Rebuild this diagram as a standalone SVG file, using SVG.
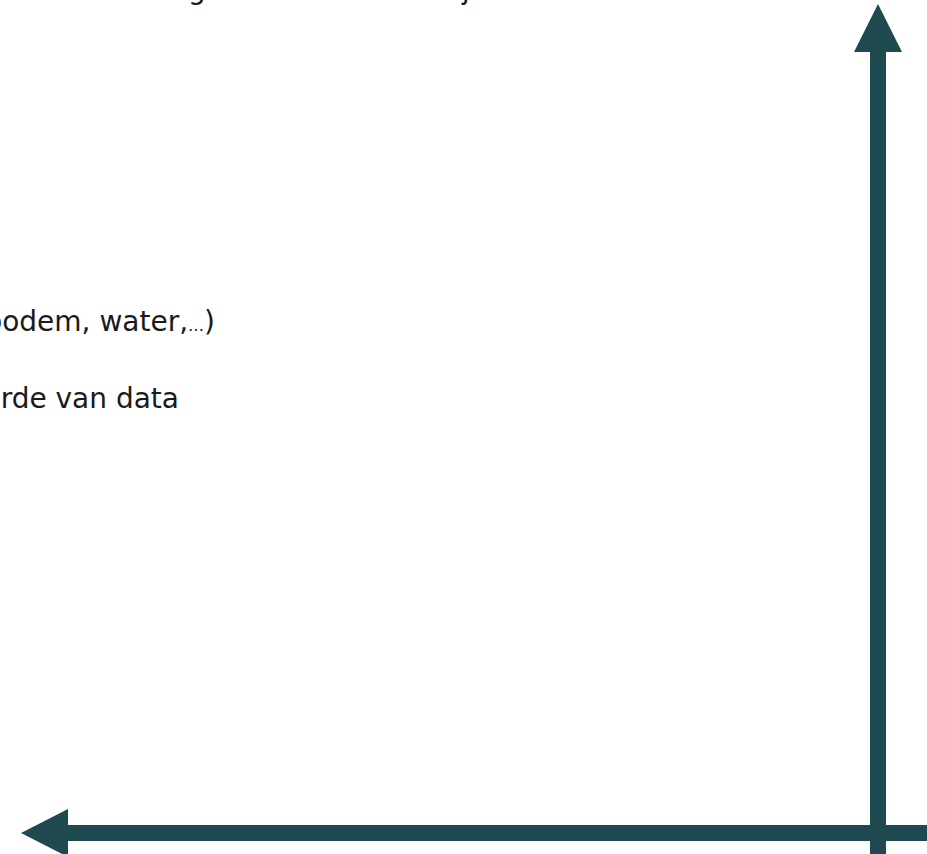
<svg xmlns="http://www.w3.org/2000/svg" width="927" height="854" viewBox="0 0 927 854">
<style>
.t{font-family:"DejaVu Sans",sans-serif;font-size:28px;fill:#1a1a1a}
.ax{fill:#1e494e}
</style>
<rect width="927" height="854" fill="#ffffff"/>
<g id="labels">
<text class="t" x="188" y="-1">g</text>
<text class="t" x="462" y="-1">j</text>
<text id="line1" class="t" x="215" y="331" text-anchor="end">bodem, water,<tspan font-size="16">…</tspan>)</text>
<text id="line2" class="t" x="179" y="408" text-anchor="end">rde van data</text>
</g>
<g id="connectors">
<g id="y-axis">
<rect class="ax" x="870" y="50" width="16" height="804"/>
<polygon class="ax" points="878,4 902,52 854,52"/>
</g>
<g id="x-axis">
<rect class="ax" x="66" y="825" width="861" height="16"/>
<polygon class="ax" points="21,833 68,809 68,857"/>
</g>
</g>
</svg>
